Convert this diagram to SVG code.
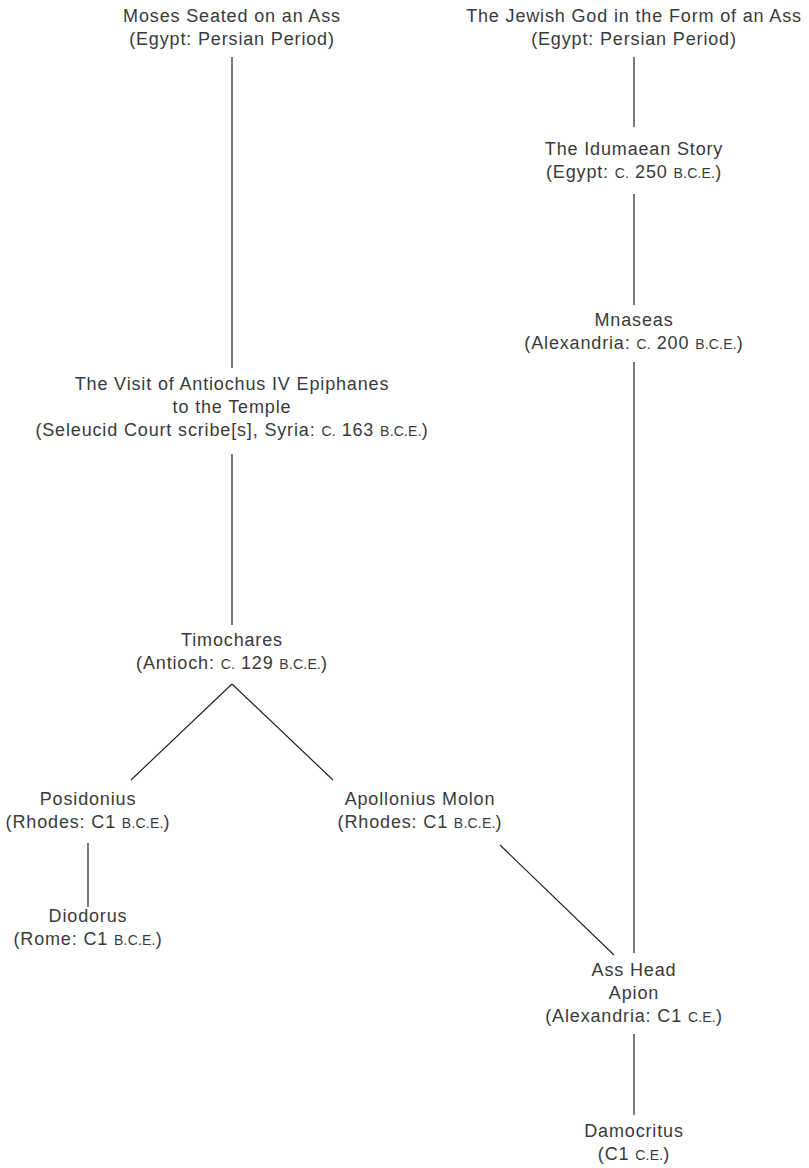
<svg xmlns="http://www.w3.org/2000/svg" width="809" height="1168" viewBox="0 0 809 1168">
<style>
text{font-family:"Liberation Sans",Arial,sans-serif;font-size:18px;fill:#3a3a3a;text-anchor:middle;letter-spacing:0.85px}
.sc{font-size:14px;letter-spacing:0.2px}
.c line{stroke:#222;stroke-width:1.2;fill:none}
</style>
<rect width="809" height="1168" fill="#fff"/>
<g class="c" id="connectors">
<line x1="232" y1="57" x2="232" y2="368"/>
<line x1="634" y1="57" x2="634" y2="127"/>
<line x1="634" y1="194" x2="634" y2="305"/>
<line x1="634" y1="362" x2="634" y2="953"/>
<line x1="232" y1="454" x2="232" y2="625"/>
<line x1="232" y1="684" x2="131" y2="780"/>
<line x1="232" y1="684" x2="333" y2="780"/>
<line x1="88" y1="843" x2="88" y2="907"/>
<line x1="500" y1="845" x2="614" y2="955"/>
<line x1="634" y1="1034" x2="634" y2="1115"/>
</g>
<g id="moses"><text x="232" y="22">Moses Seated on an Ass</text><text x="232" y="45">(Egypt: Persian Period)</text></g>
<g id="jewishgod"><text x="634" y="22">The Jewish God in the Form of an Ass</text><text x="634" y="45">(Egypt: Persian Period)</text></g>
<g id="idumaean"><text x="634" y="155">The Idumaean Story</text><text x="634" y="178">(Egypt: <tspan class="sc">C.</tspan> 250 <tspan class="sc">B.C.E.</tspan>)</text></g>
<g id="mnaseas"><text x="634" y="326">Mnaseas</text><text x="634" y="349">(Alexandria: <tspan class="sc">C.</tspan> 200 <tspan class="sc">B.C.E.</tspan>)</text></g>
<g id="antiochus"><text x="232" y="390">The Visit of Antiochus IV Epiphanes</text><text x="232" y="413">to the Temple</text><text x="232" y="436">(Seleucid Court scribe[s], Syria: <tspan class="sc">C.</tspan> 163 <tspan class="sc">B.C.E.</tspan>)</text></g>
<g id="timochares"><text x="232" y="646">Timochares</text><text x="232" y="669">(Antioch: <tspan class="sc">C.</tspan> 129 <tspan class="sc">B.C.E.</tspan>)</text></g>
<g id="posidonius"><text x="88" y="805">Posidonius</text><text x="88" y="828">(Rhodes: C1 <tspan class="sc">B.C.E.</tspan>)</text></g>
<g id="apollonius"><text x="420" y="805">Apollonius Molon</text><text x="420" y="828">(Rhodes: C1 <tspan class="sc">B.C.E.</tspan>)</text></g>
<g id="diodorus"><text x="88" y="922">Diodorus</text><text x="88" y="945">(Rome: C1 <tspan class="sc">B.C.E.</tspan>)</text></g>
<g id="apion"><text x="634" y="976">Ass Head</text><text x="634" y="999">Apion</text><text x="634" y="1022">(Alexandria: C1 <tspan class="sc">C.E.</tspan>)</text></g>
<g id="damocritus"><text x="634" y="1137">Damocritus</text><text x="634" y="1160">(C1 <tspan class="sc">C.E.</tspan>)</text></g>
</svg>
